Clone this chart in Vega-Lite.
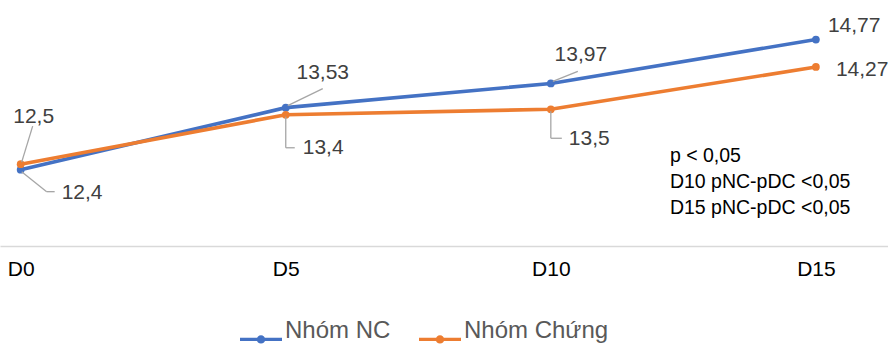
{
  "$schema": "https://vega.github.io/schema/vega-lite/v6.json",
  "width": 888,
  "height": 246,
  "autosize": {"type": "none"},
  "padding": {"left": 0, "top": 0, "right": 0, "bottom": 102},
  "background": "white",
  "config": {
    "view": {"stroke": null},
    "font": "Liberation Sans",
    "locale": {"number": {"decimal": ",", "thousands": ".", "grouping": [3], "currency": ["", ""]}}
  },
  "datasets": {
    "chi_so": [
      {"day": 0, "nhom": "Nhóm NC", "gia_tri": 12.4},
      {"day": 5, "nhom": "Nhóm NC", "gia_tri": 13.53},
      {"day": 10, "nhom": "Nhóm NC", "gia_tri": 13.97},
      {"day": 15, "nhom": "Nhóm NC", "gia_tri": 14.77},
      {"day": 0, "nhom": "Nhóm Chứng", "gia_tri": 12.5},
      {"day": 5, "nhom": "Nhóm Chứng", "gia_tri": 13.4},
      {"day": 10, "nhom": "Nhóm Chứng", "gia_tri": 13.5},
      {"day": 15, "nhom": "Nhóm Chứng", "gia_tri": 14.27}
    ]
  },
  "data": {"name": "chi_so"},
  "encoding": {
    "x": {
      "field": "day",
      "type": "quantitative",
      "scale": {"domain": [-0.39, 16.36], "nice": false, "zero": false},
      "axis": {
        "title": null,
        "values": [0, 5, 10, 15],
        "labelExpr": "'D' + datum.value",
        "ticks": false,
        "grid": false,
        "domainColor": "#d9d9d9",
        "domainWidth": 1.5,
        "labelFont": "Liberation Sans",
        "labelFontSize": 21,
        "labelColor": "#000000",
        "labelPadding": 12,
        "labelFlush": false
      }
    },
    "y": {
      "field": "gia_tri",
      "type": "quantitative",
      "scale": {"domain": [11.01, 15.49], "nice": false, "zero": false},
      "axis": null
    }
  },
  "layer": [
    {
      "mark": {"type": "line", "strokeWidth": 3.6},
      "encoding": {
        "color": {
          "field": "nhom",
          "type": "nominal",
          "scale": {"domain": ["Nhóm NC", "Nhóm Chứng"], "range": ["#4472C4", "#ED7D31"]},
          "legend": {
            "title": null,
            "orient": "none",
            "legendX": 240,
            "legendY": 318,
            "direction": "horizontal",
            "symbolType": "M-1,-0.08L1,-0.08L1,0.08L-1,0.08Z M0.2,0 A0.2,0.2 0 1,1 -0.2,0 A0.2,0.2 0 1,1 0.2,0 Z",
            "symbolSize": 1764,
            "symbolStrokeWidth": 0,
            "labelFont": "Liberation Sans",
            "labelFontSize": 24,
            "labelColor": "#595959",
            "labelOffset": 3,
            "columnPadding": 28,
            "encode": {
              "symbols": {"update": {"fill": {"scale": "color", "field": "value"}, "strokeWidth": {"value": 0}}},
              "labels": {"update": {"dy": {"value": -8}}}
            }
          }
        }
      }
    },
    {
      "mark": {"type": "point", "filled": true, "size": 60, "opacity": 1},
      "encoding": {"color": {"field": "nhom", "type": "nominal"}}
    },
    {
      "transform": [{"filter": "datum.nhom === 'Nhóm NC' && datum.day === 0"}],
      "mark": {"type": "rule", "color": "#a6a6a6", "strokeWidth": 1.3, "xOffset": 1, "yOffset": 2, "x2Offset": 26, "y2Offset": 22},
      "encoding": {"x2": {"field": "day"}, "y2": {"field": "gia_tri"}}
    },
    {
      "transform": [{"filter": "datum.nhom === 'Nhóm NC' && datum.day === 0"}],
      "mark": {"type": "rule", "color": "#a6a6a6", "strokeWidth": 1.3, "xOffset": 26, "yOffset": 22, "x2Offset": 34, "y2Offset": 22},
      "encoding": {"x2": {"field": "day"}, "y2": {"field": "gia_tri"}}
    },
    {
      "transform": [{"filter": "datum.nhom === 'Nhóm Chứng' && datum.day === 0"}],
      "mark": {"type": "rule", "color": "#a6a6a6", "strokeWidth": 1.3, "xOffset": 1, "yOffset": -2, "x2Offset": 12, "y2Offset": -38},
      "encoding": {"x2": {"field": "day"}, "y2": {"field": "gia_tri"}}
    },
    {
      "transform": [{"filter": "datum.nhom === 'Nhóm NC' && datum.day === 5"}],
      "mark": {"type": "rule", "color": "#a6a6a6", "strokeWidth": 1.3, "xOffset": 2, "yOffset": -2, "x2Offset": 37, "y2Offset": -19},
      "encoding": {"x2": {"field": "day"}, "y2": {"field": "gia_tri"}}
    },
    {
      "transform": [{"filter": "datum.nhom === 'Nhóm Chứng' && datum.day === 5"}],
      "mark": {"type": "rule", "color": "#a6a6a6", "strokeWidth": 1.3, "xOffset": 0, "yOffset": 2, "x2Offset": 0, "y2Offset": 33},
      "encoding": {"x2": {"field": "day"}, "y2": {"field": "gia_tri"}}
    },
    {
      "transform": [{"filter": "datum.nhom === 'Nhóm Chứng' && datum.day === 5"}],
      "mark": {"type": "rule", "color": "#a6a6a6", "strokeWidth": 1.3, "xOffset": 0, "yOffset": 33, "x2Offset": 9, "y2Offset": 33},
      "encoding": {"x2": {"field": "day"}, "y2": {"field": "gia_tri"}}
    },
    {
      "transform": [{"filter": "datum.nhom === 'Nhóm NC' && datum.day === 10"}],
      "mark": {"type": "rule", "color": "#a6a6a6", "strokeWidth": 1.3, "xOffset": 2, "yOffset": -2, "x2Offset": 27, "y2Offset": -12},
      "encoding": {"x2": {"field": "day"}, "y2": {"field": "gia_tri"}}
    },
    {
      "transform": [{"filter": "datum.nhom === 'Nhóm Chứng' && datum.day === 10"}],
      "mark": {"type": "rule", "color": "#a6a6a6", "strokeWidth": 1.3, "xOffset": 0, "yOffset": 2, "x2Offset": 0, "y2Offset": 29},
      "encoding": {"x2": {"field": "day"}, "y2": {"field": "gia_tri"}}
    },
    {
      "transform": [{"filter": "datum.nhom === 'Nhóm Chứng' && datum.day === 10"}],
      "mark": {"type": "rule", "color": "#a6a6a6", "strokeWidth": 1.3, "xOffset": 0, "yOffset": 29, "x2Offset": 11, "y2Offset": 29},
      "encoding": {"x2": {"field": "day"}, "y2": {"field": "gia_tri"}}
    },
    {
      "transform": [{"filter": "datum.nhom === 'Nhóm NC' && datum.day === 0"}],
      "mark": {"type": "text", "align": "left", "baseline": "middle", "dx": 41, "dy": 23, "fontSize": 21, "color": "#404040"},
      "encoding": {"text": {"field": "gia_tri", "type": "quantitative", "format": ".2~f"}}
    },
    {
      "transform": [{"filter": "datum.nhom === 'Nhóm Chứng' && datum.day === 0"}],
      "mark": {"type": "text", "align": "center", "baseline": "middle", "dx": 13, "dy": -47, "fontSize": 21, "color": "#404040"},
      "encoding": {"text": {"field": "gia_tri", "type": "quantitative", "format": ".2~f"}}
    },
    {
      "transform": [{"filter": "datum.nhom === 'Nhóm NC' && datum.day === 5"}],
      "mark": {"type": "text", "align": "center", "baseline": "middle", "dx": 37, "dy": -35, "fontSize": 21, "color": "#404040"},
      "encoding": {"text": {"field": "gia_tri", "type": "quantitative", "format": ".2~f"}}
    },
    {
      "transform": [{"filter": "datum.nhom === 'Nhóm Chứng' && datum.day === 5"}],
      "mark": {"type": "text", "align": "left", "baseline": "middle", "dx": 17, "dy": 33, "fontSize": 21, "color": "#404040"},
      "encoding": {"text": {"field": "gia_tri", "type": "quantitative", "format": ".2~f"}}
    },
    {
      "transform": [{"filter": "datum.nhom === 'Nhóm NC' && datum.day === 10"}],
      "mark": {"type": "text", "align": "center", "baseline": "middle", "dx": 30, "dy": -28, "fontSize": 21, "color": "#404040"},
      "encoding": {"text": {"field": "gia_tri", "type": "quantitative", "format": ".2~f"}}
    },
    {
      "transform": [{"filter": "datum.nhom === 'Nhóm Chứng' && datum.day === 10"}],
      "mark": {"type": "text", "align": "left", "baseline": "middle", "dx": 18, "dy": 30, "fontSize": 21, "color": "#404040"},
      "encoding": {"text": {"field": "gia_tri", "type": "quantitative", "format": ".2~f"}}
    },
    {
      "transform": [{"filter": "datum.nhom === 'Nhóm NC' && datum.day === 15"}],
      "mark": {"type": "text", "align": "left", "baseline": "middle", "dx": 12, "dy": -14, "fontSize": 21, "color": "#404040"},
      "encoding": {"text": {"field": "gia_tri", "type": "quantitative", "format": ".2~f"}}
    },
    {
      "transform": [{"filter": "datum.nhom === 'Nhóm Chứng' && datum.day === 15"}],
      "mark": {"type": "text", "align": "left", "baseline": "middle", "dx": 20, "dy": 3, "fontSize": 21, "color": "#404040"},
      "encoding": {"text": {"field": "gia_tri", "type": "quantitative", "format": ".2~f"}}
    },
    {
      "transform": [{"filter": "datum.nhom === 'Nhóm Chứng' && datum.day === 15"}],
      "mark": {
        "type": "text",
        "align": "left",
        "baseline": "top",
        "dx": -146,
        "dy": 80,
        "lineHeight": 26,
        "fontSize": 19.5,
        "color": "#000000",
        "text": ["p < 0,05", "D10 pNC-pDC <0,05", "D15 pNC-pDC <0,05"]
      },
      "encoding": {}
    }
  ]
}
